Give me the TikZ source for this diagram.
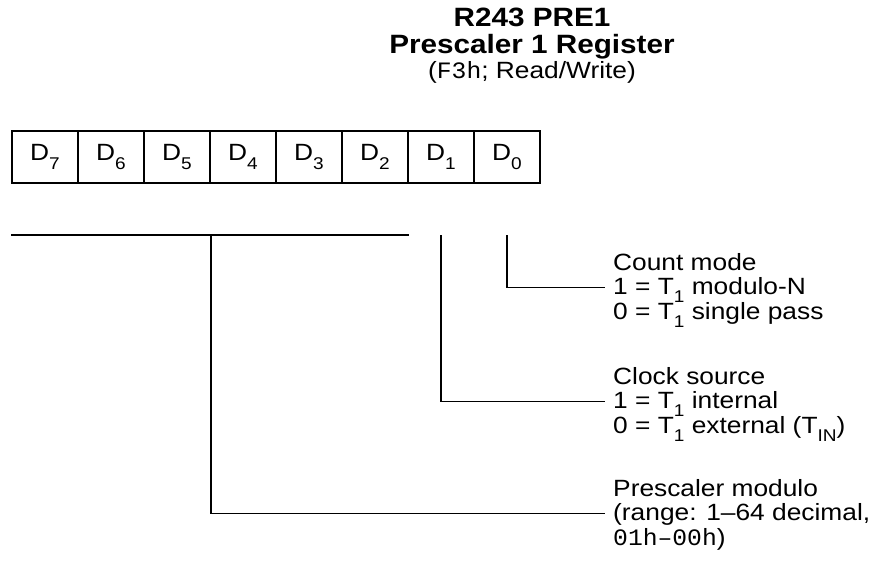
\documentclass[tikz,border=0pt]{standalone}
\usepackage{fontspec}
\setmainfont{Liberation Sans}[FakeStretch=1.12]
\setmonofont{Liberation Mono}[FakeStretch=1.05]
\usetikzlibrary{positioning}
\newcommand{\sbs}[1]{\raisebox{-0.35em}{\fontsize{17}{17}\selectfont #1}}
\tikzset{
  regfont/.style={font=\fontsize{23.5}{27}\selectfont},
  titlefont/.style={font=\bfseries\fontsize{26.5}{30}\selectfont},
  bitcell/.style={draw, line width=1.5pt, minimum width=66pt,
    minimum height=52pt, inner sep=0pt, regfont},
  desc/.style={anchor=base west, inner xsep=8pt, inner ysep=0pt, regfont},
  leader/.style={line width=1.5pt},
}

\begin{document}
\begin{tikzpicture}[x=1pt, y=-1pt]

  \useasboundingbox (0,0) rectangle (874,567);

  % Title block.
  \node[titlefont, anchor=base] (ttlA) at (532,27) {R243 PRE1};
  \node[titlefont, anchor=base] (ttlB) at (532,54) {Prescaler 1 Register};
  \node[regfont, anchor=base] (ttlC) at (532,79)
    {(\texttt{F3h}; Read/Write)};

  % Register cells D7 ... D0.
  \foreach \b in {0,...,7} {
    \node[bitcell] (d\b) at ({507-66*\b},157) {D\sbs{\b}};
  }

  % Level of the field brackets.
  \coordinate (lvl) at (0,235);

  % Field descriptions — D0.
  \node[desc] (cntA) at (605,270) {Count mode};
  \node[desc] (cntB) at (605,294.5) {1 = T\sbs{1} modulo-N};
  \node[desc] (cntC) at (605,319) {0 = T\sbs{1} single pass};

  % Field descriptions — D1.
  \node[desc] (clkA) at (605,384) {Clock source};
  \node[desc] (clkB) at (605,408.5) {1 = T\sbs{1} internal};
  \node[desc] (clkC) at (605,433) {0 = T\sbs{1} external (T\sbs{IN})};

  % Field descriptions — D7..D2.
  \node[desc] (preA) at (605,496) {Prescaler modulo};
  \node[desc] (preB) at (605,520.5) {(range: 1–64 decimal,};
  \node[desc] (preC) at (605,545) {\texttt{01h–00h})};

  % Bracket over bits 7..2.
  \draw[leader] (d7.west |- lvl) -- (d2.east |- lvl);

  % Leaders to the descriptions.
  \draw[leader] (d0 |- lvl) |- ([yshift=7pt]cntB.base west);
  \draw[leader] (d1 |- lvl) |- ([yshift=7pt]clkB.base west);
  \draw[leader] (d5.east |- lvl) |- ([yshift=7pt]preB.base west);

\end{tikzpicture}
\end{document}
